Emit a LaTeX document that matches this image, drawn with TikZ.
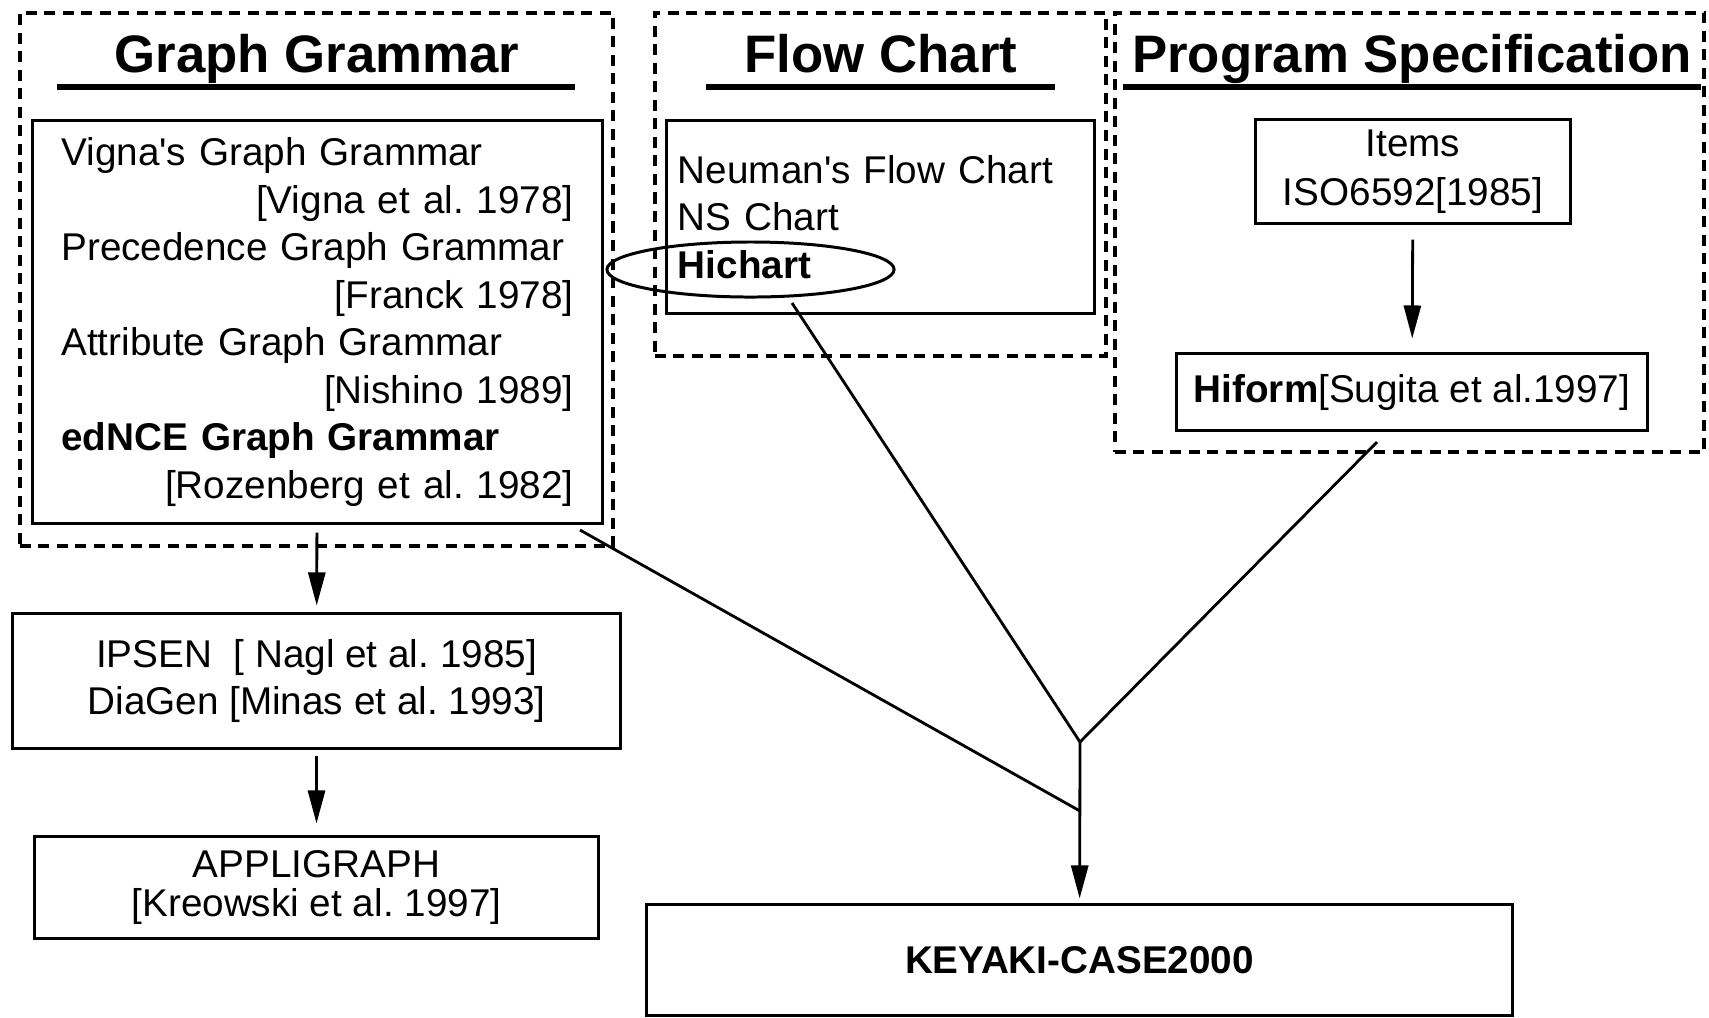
\documentclass[tikz,border=0pt]{standalone}
\usepackage{fontspec}
\setmainfont{Liberation Sans}
\usetikzlibrary{arrows.meta, shapes.geometric}
\frenchspacing
\tikzset{
  groupframe/.style={draw, line width=1.1pt, dash pattern=on 0.11cm off 0.075cm, inner sep=0pt},
  grouptitle/.style={font=\fontsize{15}{18}\selectfont\bfseries, anchor=base, inner sep=0pt},
  titlerule/.style={line width=1.6pt},
  refbox/.style={draw, line width=0.85pt, inner sep=0pt, font=\fontsize{11}{13.5}\selectfont},
  link/.style={line width=0.8pt},
  arr/.style={link, -{Triangle[length=3.3mm, width=1.7mm]}},
}

\begin{document}
\begin{tikzpicture}[x=0.01cm, y=-0.01cm]
  \useasboundingbox (0,0) rectangle (1709,1017);

  % dashed groups
  \node[groupframe, minimum width=5.93cm, minimum height=5.33cm] (ggframe) at (316.5,279.5) {};
  \node[groupframe, minimum width=4.51cm, minimum height=3.43cm] (fcframe) at (880.5,184.5) {};
  \node[groupframe, minimum width=5.89cm, minimum height=4.39cm] (psframe) at (1409.5,232.5) {};

  \node[grouptitle] (ggtitle) at (317,72) {Graph Grammar};
  \node[grouptitle] (fctitle) at (881,72) {Flow Chart};
  \node[grouptitle] (pstitle) at (1412,72) {Program Specification};
  \draw[titlerule] (57,87) -- (575,87);
  \draw[titlerule] (706,87) -- (1055,87);
  \draw[titlerule] (1123,87) -- (1701,87);

  % graph grammar
  \node[refbox, minimum width=5.69cm, minimum height=4.02cm, text width=5.12cm, align=left] (ggbox) at (317.5,322)
    {Vigna\textquotesingle s Graph Grammar\\
     \hfill[Vigna et al. 1978]\\
     Precedence Graph Grammar\\
     \hfill[Franck 1978]\\
     Attribute Graph Grammar\\
     \hfill[Nishino 1989]\\
     \textbf{edNCE Graph Grammar}\\
     \hfill[Rozenberg et al. 1982]};

  % flow chart
  \node[refbox, minimum width=4.27cm, minimum height=1.92cm, text width=4.05cm, align=left] (fcbox) at (880.5,217)
    {Neuman\textquotesingle s Flow Chart\\
     NS Chart\\
     \textbf{Hichart}};
  \node[draw, ellipse, line width=0.85pt, inner sep=0pt, minimum width=2.87cm, minimum height=0.55cm] (hichart) at (750.5,269.5) {};

  % program specification
  \node[refbox, minimum width=3.14cm, minimum height=1.03cm, align=center, font=\fontsize{11}{14}\selectfont] (items) at (1413,171.5)
    {Items\\ISO6592[1985]};
  \node[refbox, minimum width=4.70cm, minimum height=0.76cm] (hiform) at (1412,392)
    {\textbf{Hiform}[Sugita et al.1997]};

  % tools
  \node[refbox, minimum width=6.07cm, minimum height=1.34cm, align=center] (ipsen) at (316.5,681)
    {IPSEN\ \ [ Nagl et al. 1985]\\DiaGen [Minas et al. 1993]};
  \node[refbox, minimum width=5.63cm, minimum height=1.01cm, align=center, font=\fontsize{11}{11}\selectfont] (appli) at (316.5,887.5)
    {APPLIGRAPH\\{}[Kreowski et al. 1997]};
  \node[refbox, minimum width=8.65cm, minimum height=1.10cm, font=\fontsize{11}{13.5}\selectfont\bfseries] (keyaki) at (1079.5,960)
    {KEYAKI-CASE2000};

  % connectors
  \coordinate (ggout) at (580,530);
  \coordinate (hichartout) at (792,303);
  \coordinate (hiformout) at (1377,442);
  \coordinate (join) at (1080,742);
  \coordinate (merge) at (1080,811);

  \draw[arr, shorten <=0.08cm, shorten >=0.07cm] (ggbox) -- (ipsen);
  \draw[arr, shorten <=0.06cm, shorten >=0.12cm] (ipsen) -- (appli);
  \draw[arr, shorten <=0.15cm, shorten >=0.14cm] (items) -- (hiform);
  \draw[link] (hichartout) -- (join);
  \draw[link] (hiformout) -- (join);
  \draw[link] (ggout) -- (merge);
  \draw[arr, shorten >=0.05cm] (join) -- (keyaki);
\end{tikzpicture}
\end{document}
